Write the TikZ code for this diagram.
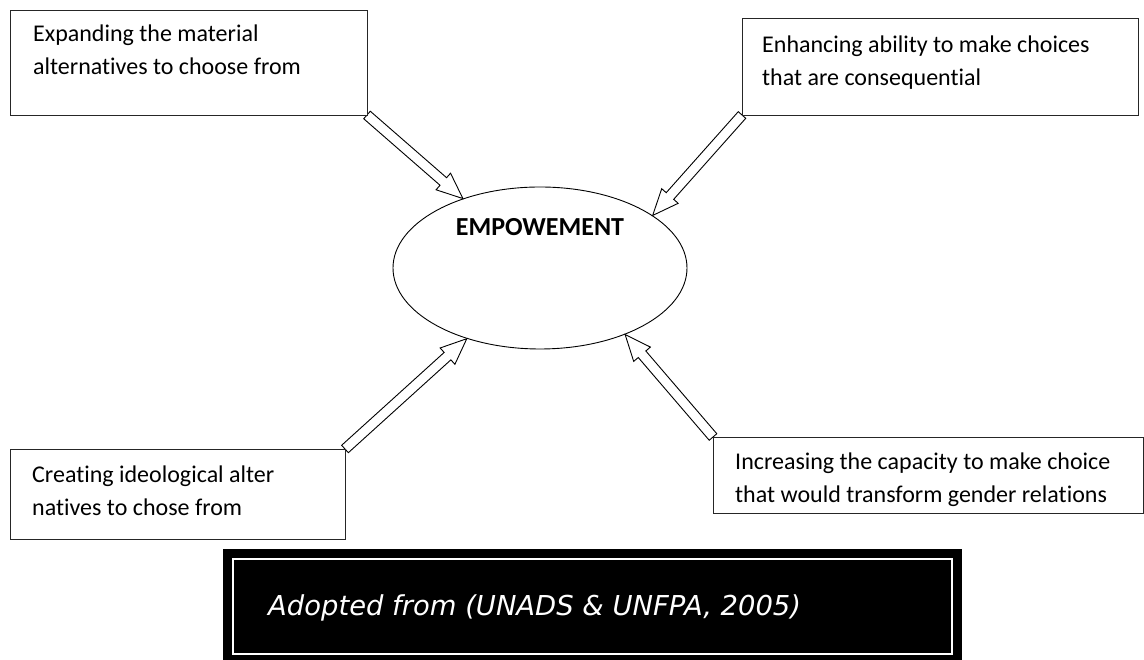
\documentclass[tikz,border=0pt]{standalone}
\usepackage{fontspec}
\setmainfont[Ligatures=NoCommon]{Carlito}
\newfontfamily\srcfont{DejaVu Sans}
\usetikzlibrary{calc,shapes.geometric}

% hollow block arrow from #1 (tail) to #2 (tip)
\newcommand\hollowarrow[2]{%
  \coordinate (ha-h) at ($(#2)!26pt!(#1)$);
  \draw[arrowline]
    ($(#1)!5pt!90:(#2)$) -- ($(ha-h)!5pt!90:(#2)$) -- ($(ha-h)!11pt!90:(#2)$)
    -- (#2)
    -- ($(ha-h)!11pt!-90:(#2)$) -- ($(ha-h)!5pt!-90:(#2)$) -- ($(#1)!5pt!-90:(#2)$)
    -- cycle;
}

\begin{document}
\begin{tikzpicture}[x=1pt,y=1pt,
  box/.style={draw=black!85, line width=1.1pt, fill=white, inner sep=0pt,
    anchor=north west},
  % base anchor of a two-line text sits on its second line
  boxtext/.style={anchor=base west, align=left, inner sep=0pt,
    font=\fontsize{24}{33}\selectfont},
  arrowline/.style={draw=black, line width=0.9pt, fill=white, line join=miter},
  centre/.style={ellipse, draw=black, line width=0.9pt, fill=white,
    minimum width=294pt, minimum height=162pt, inner sep=0pt,
    text height=17pt, text depth=81pt,
    font=\fontsize{26}{30}\selectfont\bfseries},
  srcbox/.style={fill=black, inner sep=0pt, anchor=north west},
  srctext/.style={anchor=base west, inner sep=0pt, text=white,
    font=\srcfont\itshape\fontsize{27.4}{30}\selectfont}]
\useasboundingbox (0,0) rectangle (1144,660);

% central concept
\node[centre] (emp) at (540,392) {EMPOWEMENT};

% arrows (drawn before the boxes so the tails tuck under the corners)
\coordinate (matc) at (367,545);
\coordinate (consc) at (742,545);
\coordinate (ideoc) at (345,211);
\coordinate (gendc) at (713,223);
\hollowarrow{matc}{emp.138}
\hollowarrow{consc}{emp.25}
\hollowarrow{ideoc}{emp.224}
\hollowarrow{gendc}{emp.322}

% the four surrounding boxes
\node[box, minimum width=357pt, minimum height=105pt] (mat) at (10,650) {};
\node[box, minimum width=396pt, minimum height=97pt] (cons) at (742,642) {};
\node[box, minimum width=335pt, minimum height=90pt] (ideo) at (10,211) {};
\node[box, minimum width=430pt, minimum height=76pt] (gend) at (713,223) {};

\node[boxtext] (matt) at ($(mat.north west)+(23,-65)$)
  {Expanding the material\\alternatives to choose from};
\node[boxtext] (const) at ($(cons.north west)+(20,-68)$)
  {Enhancing ability to make choices\\that are consequential};
\node[boxtext] (ideot) at ($(ideo.north west)+(22,-67)$)
  {Creating ideological alter\\natives to chose from};
\node[boxtext] (gendt) at ($(gend.north west)+(22,-66)$)
  {Increasing the capacity to make choice\\that would transform gender relations};

% source note
\node[srcbox, minimum width=739pt, minimum height=111pt] (src) at (223,111) {};
\draw[white, line width=2pt] ($(src.south west)+(10,6)$) rectangle ($(src.north east)+(-10,-10)$);
\node[srctext] (srct) at (268,44) {Adopted from (UNADS \& UNFPA, 2005)};
\end{tikzpicture}
\end{document}
